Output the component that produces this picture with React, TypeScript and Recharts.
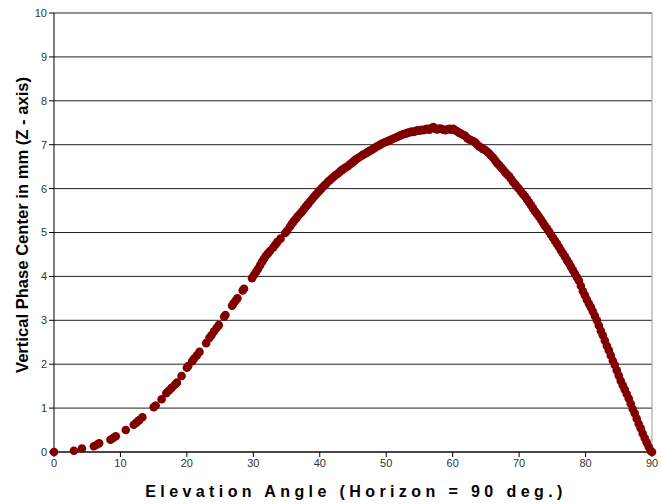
import {
	CartesianGrid,
	Label,
	ReferenceLine,
	Scatter,
	ScatterChart,
	XAxis,
	YAxis,
} from "recharts";

// elevation angle (deg) / vertical phase center (mm)
const risingSparse: [number, number][] = [
	[0, 0], [3.0, 0.03], [4.2, 0.08], [6.0, 0.13], [6.5, 0.17], [6.8, 0.2],
	[8.5, 0.28], [8.9, 0.32], [9.3, 0.36], [10.8, 0.5], [12.0, 0.62],
	[12.4, 0.67], [12.8, 0.72], [13.3, 0.79], [15.0, 1.02], [15.3, 1.06],
	[16.2, 1.2], [16.9, 1.34], [17.3, 1.4], [17.7, 1.46], [18.2, 1.53],
	[18.5, 1.58], [19.2, 1.73], [20.0, 1.92], [20.2, 1.96], [20.8, 2.07],
	[21.1, 2.13], [21.5, 2.2], [21.9, 2.28], [22.9, 2.48], [23.4, 2.6],
	[23.7, 2.66], [24.1, 2.75], [24.5, 2.83], [24.8, 2.89], [25.6, 3.08],
	[25.8, 3.12], [26.8, 3.33], [27.0, 3.38], [27.3, 3.44], [27.6, 3.5],
	[28.4, 3.68], [28.6, 3.72],
];

const risingDense: [number, number][] = [
	[29.8, 3.96], [30.1, 4.03], [30.4, 4.1], [30.7, 4.17], [31.0, 4.25],
	[31.3, 4.33], [31.6, 4.4], [31.9, 4.47], [32.2, 4.52], [32.5, 4.58],
	[33.0, 4.66], [33.3, 4.72], [33.6, 4.78], [34.1, 4.86], [34.8, 4.99],
	[35.1, 5.04], [35.5, 5.13], [35.8, 5.2], [36.1, 5.26], [36.4, 5.31],
	[36.7, 5.37], [37.0, 5.42], [37.3, 5.47], [37.6, 5.53], [37.9, 5.59],
	[38.2, 5.64], [38.5, 5.7], [38.8, 5.75], [39.1, 5.81], [39.4, 5.86],
	[39.7, 5.91], [40.0, 5.96], [40.3, 6.01], [40.6, 6.06], [40.9, 6.1],
	[41.2, 6.15], [41.5, 6.19], [41.8, 6.23], [42.1, 6.27], [42.4, 6.31],
	[42.7, 6.34], [43.0, 6.38], [43.3, 6.42], [43.6, 6.45], [43.9, 6.48],
	[44.2, 6.51], [44.5, 6.55], [44.8, 6.58], [45.1, 6.62], [45.4, 6.66],
	[45.7, 6.69], [46.0, 6.72], [46.3, 6.75], [46.6, 6.78], [46.9, 6.8],
	[47.2, 6.83], [47.5, 6.86], [47.8, 6.88], [48.1, 6.91], [48.4, 6.94],
	[48.7, 6.97], [49.0, 6.99], [49.3, 7.02], [49.6, 7.04], [49.9, 7.06],
	[50.2, 7.08], [50.5, 7.1], [50.8, 7.12], [51.1, 7.14], [51.4, 7.16],
	[51.7, 7.18], [52.0, 7.2], [52.3, 7.22], [52.6, 7.24], [52.9, 7.25],
	[53.2, 7.27], [53.5, 7.28], [53.8, 7.3], [54.1, 7.29], [54.4, 7.31],
	[54.7, 7.33], [55.0, 7.32], [55.3, 7.34], [55.6, 7.33], [55.9, 7.35],
];

const peak: [number, number][] = [
	[56.2, 7.36], [56.5, 7.34], [56.8, 7.38], [57.1, 7.4], [57.4, 7.36],
	[57.7, 7.35], [58.0, 7.37], [58.3, 7.36], [58.6, 7.34], [58.9, 7.33],
	[59.2, 7.35], [59.5, 7.36], [59.8, 7.34], [60.1, 7.36], [60.4, 7.33],
	[60.7, 7.3], [61.0, 7.27], [61.3, 7.25], [61.6, 7.22], [61.9, 7.2],
	[62.2, 7.15], [62.5, 7.12], [62.8, 7.1], [63.1, 7.08], [63.4, 7.05],
];

const falling: [number, number][] = [
	[63.7, 7.0], [64.0, 6.96], [64.3, 6.93], [64.6, 6.9], [64.9, 6.88],
	[65.2, 6.84], [65.5, 6.8], [65.8, 6.75], [66.1, 6.7], [66.4, 6.64],
	[66.7, 6.58], [67.0, 6.53], [67.3, 6.48], [67.6, 6.43], [67.9, 6.37],
	[68.2, 6.32], [68.5, 6.28], [68.8, 6.22], [69.1, 6.15], [69.4, 6.1],
	[69.7, 6.04], [70.0, 5.99], [70.3, 5.93], [70.6, 5.87], [70.9, 5.82],
	[71.2, 5.75], [71.5, 5.69], [71.8, 5.62], [72.1, 5.55], [72.4, 5.48],
	[72.7, 5.42], [73.0, 5.36], [73.3, 5.29], [73.6, 5.22], [73.9, 5.15],
	[74.2, 5.09], [74.5, 5.02], [74.8, 4.95], [75.1, 4.88], [75.4, 4.81],
	[75.7, 4.74], [76.0, 4.67], [76.3, 4.59], [76.6, 4.52], [76.9, 4.45],
	[77.2, 4.37], [77.5, 4.3], [77.8, 4.22], [78.1, 4.14], [78.4, 4.06],
	[78.7, 3.98], [79.0, 3.9], [79.3, 3.78], [79.6, 3.66], [79.9, 3.57],
	[80.2, 3.47], [80.5, 3.38], [80.8, 3.3], [81.1, 3.2], [81.4, 3.1],
	[81.7, 3.0], [82.0, 2.88], [82.3, 2.76], [82.6, 2.66], [82.9, 2.54],
	[83.2, 2.42], [83.5, 2.32], [83.8, 2.2], [84.1, 2.08], [84.4, 1.98],
	[84.7, 1.86], [85.0, 1.74], [85.3, 1.62], [85.6, 1.52], [85.9, 1.42],
	[86.2, 1.32], [86.5, 1.22], [86.8, 1.1], [87.1, 0.98], [87.4, 0.88],
	[87.7, 0.76], [88.0, 0.64], [88.3, 0.54], [88.6, 0.42], [88.9, 0.32],
	[89.2, 0.22], [89.5, 0.12], [89.8, 0.03], [90, 0],
];

const xTicks = [0, 10, 20, 30, 40, 50, 60, 70, 80, 90];
const yTicks = [0, 1, 2, 3, 4, 5, 6, 7, 8, 9, 10];

const MARKER = "#800000";
const FONT = "'Liberation Sans', Arial, sans-serif";

const data = [...risingSparse, ...risingDense, ...peak, ...falling].map(
	([elev, z]) => ({ elev, z }),
);

function Dot(props: any) {
	const { cx, cy } = props;
	if (cx == null || cy == null) return null;
	return <circle cx={cx} cy={cy} r={4.3} fill={MARKER} />;
}

export default function App() {
	return (
		<div style={{ position: "absolute", left: 0, top: 0 }}>
			<ScatterChart
				width={662}
				height={504}
				margin={{ top: 13, right: 10, left: 0, bottom: 0 }}
			>
				<CartesianGrid vertical={false} stroke="#222" />
				<XAxis
					type="number"
					dataKey="elev"
					domain={[0, 90]}
					ticks={xTicks}
					height={52}
					tickSize={5}
					stroke="#000"
					tick={{ fontSize: 11, fill: "#333", fontFamily: FONT }}
				>
					<Label
						content={() => (
							<text
								x={356}
								y={497}
								textAnchor="middle"
								fontFamily={FONT}
								fontWeight="bold"
								fontSize={16}
								letterSpacing={4.4}
								fill="#000"
							>
								Elevation Angle (Horizon = 90 deg.)
							</text>
						)}
					/>
				</XAxis>
				<YAxis
					type="number"
					dataKey="z"
					domain={[0, 10]}
					ticks={yTicks}
					width={54}
					tickSize={5}
					stroke="#000"
					tick={{ fontSize: 11, fill: "#333", fontFamily: FONT }}
				>
					<Label
						content={() => (
							<text
								x={28}
								y={225}
								transform="rotate(-90 28 225)"
								textAnchor="middle"
								fontFamily={FONT}
								fontWeight="bold"
								fontSize={16.6}
								fill="#000"
							>
								Vertical Phase Center in mm (Z - axis)
							</text>
						)}
					/>
				</YAxis>
				<ReferenceLine x={90} stroke="#999" />
				<Scatter
					data={data}
					fill={MARKER}
					shape={<Dot />}
					isAnimationActive={false}
				/>
			</ScatterChart>
		</div>
	);
}
